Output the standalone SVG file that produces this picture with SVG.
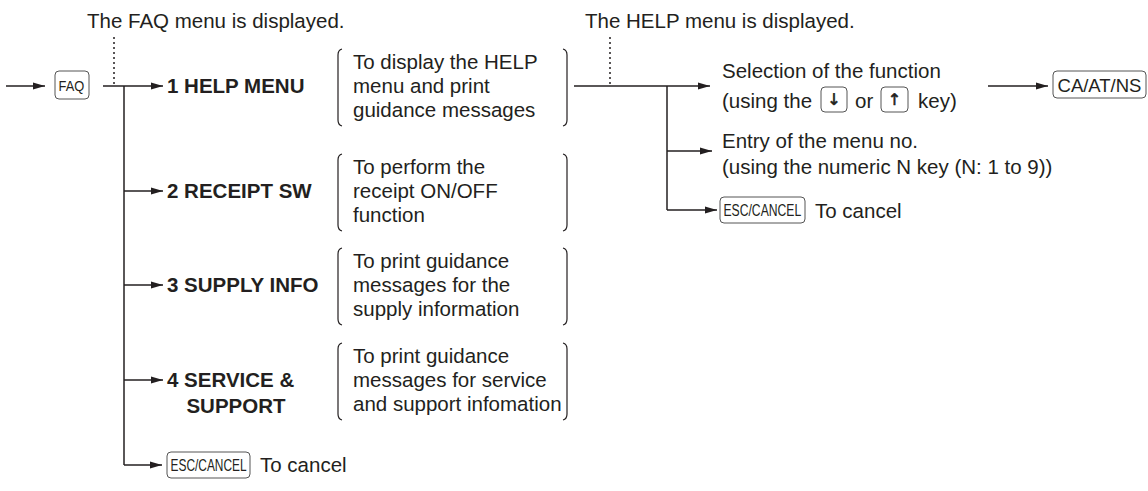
<svg xmlns="http://www.w3.org/2000/svg" width="1148" height="491" viewBox="0 0 1148 491">
<defs>
<style>
.t{font-family:"Liberation Sans",Arial,sans-serif;font-size:20.5px;fill:#231f20}
.b{font-family:"Liberation Sans",Arial,sans-serif;font-size:20.5px;font-weight:bold;fill:#231f20}
.k{font-family:"Liberation Sans",Arial,sans-serif;fill:#231f20}
.ar{font-family:"DejaVu Sans",sans-serif;font-size:16px;fill:#231f20;stroke:#231f20;stroke-width:0.6}
.ln{stroke:#231f20;stroke-width:1.5;fill:none}
.dot{stroke:#231f20;stroke-width:1.5;stroke-dasharray:2 3;fill:none}
.key{fill:#fff;stroke:#555;stroke-width:1}
.br{stroke:#231f20;stroke-width:1.2;fill:none}
</style>
<marker id="ah" markerUnits="userSpaceOnUse" markerWidth="13" markerHeight="8" refX="12" refY="4" orient="auto">
<path d="M0,0.5 L12,4 L0,7.5 z" fill="#231f20"/>
</marker>
</defs>
<rect width="1148" height="491" fill="#fff"/>

<g id="captions">
<text class="t" x="87" y="28">The FAQ menu is displayed.</text>
<text class="t" x="585" y="28">The HELP menu is displayed.</text>
</g>

<g id="connectors">
<path class="dot" d="M114,37 V86"/>
<path class="dot" d="M610,37 V86"/>
<path class="ln" d="M6,86 H45" marker-end="url(#ah)"/>
<path class="ln" d="M103,86 H163" marker-end="url(#ah)"/>
<path class="ln" d="M124,86 V465"/>
<path class="ln" d="M124,191 H163" marker-end="url(#ah)"/>
<path class="ln" d="M124,285 H163" marker-end="url(#ah)"/>
<path class="ln" d="M124,380 H163" marker-end="url(#ah)"/>
<path class="ln" d="M124,465 H162" marker-end="url(#ah)"/>
<path class="ln" d="M574,86 H710" marker-end="url(#ah)"/>
<path class="ln" d="M667,86 V210"/>
<path class="ln" d="M667,151 H712" marker-end="url(#ah)"/>
<path class="ln" d="M667,210 H717" marker-end="url(#ah)"/>
<path class="ln" d="M988,86 H1048" marker-end="url(#ah)"/>
</g>

<g id="faq-key">
<rect class="key" x="55" y="71" width="34" height="28" rx="4"/>
<text class="k" font-size="14" transform="translate(58.5,91) scale(0.92,1)">FAQ</text>
</g>

<g id="item1">
<text class="b" x="167" y="93">1 HELP MENU</text>
<path class="br" d="M342,49 Q338,50 338,55 V120 Q338,125 342,126"/>
<path class="br" d="M563,49 Q567,50 567,55 V120 Q567,125 563,126"/>
<text class="t" x="353" y="69">To display the HELP</text>
<text class="t" x="353" y="93">menu and print</text>
<text class="t" x="353" y="117">guidance messages</text>
</g>

<g id="item2">
<text class="b" x="167" y="198">2 RECEIPT SW</text>
<path class="br" d="M342,154 Q338,155 338,160 V225 Q338,230 342,231"/>
<path class="br" d="M563,154 Q567,155 567,160 V225 Q567,230 563,231"/>
<text class="t" x="353" y="174">To perform the</text>
<text class="t" x="353" y="198">receipt ON/OFF</text>
<text class="t" x="353" y="222">function</text>
</g>

<g id="item3">
<text class="b" x="167" y="292">3 SUPPLY INFO</text>
<path class="br" d="M342,248 Q338,249 338,254 V319 Q338,324 342,325"/>
<path class="br" d="M563,248 Q567,249 567,254 V319 Q567,324 563,325"/>
<text class="t" x="353" y="268">To print guidance</text>
<text class="t" x="353" y="292">messages for the</text>
<text class="t" x="353" y="316">supply information</text>
</g>

<g id="item4">
<text class="b" x="167" y="387">4 SERVICE &amp;</text>
<text class="b" x="236" y="413" text-anchor="middle">SUPPORT</text>
<path class="br" d="M342,343 Q338,344 338,349 V414 Q338,419 342,420"/>
<path class="br" d="M563,343 Q567,344 567,349 V414 Q567,419 563,420"/>
<text class="t" x="353" y="363">To print guidance</text>
<text class="t" x="353" y="387">messages for service</text>
<text class="t" x="353" y="411">and support infomation</text>
</g>

<g id="esc-left">
<rect class="key" x="167" y="452" width="83" height="26" rx="4"/>
<text class="k" font-size="16" transform="translate(170.5,471) scale(0.745,1)">ESC/CANCEL</text>
<text class="t" x="260" y="472">To cancel</text>
</g>

<g id="selection">
<text class="t" x="722" y="78">Selection of the function</text>
<text class="t" x="722" y="108">(using the</text>
<rect class="key" x="821" y="87" width="26" height="25" rx="4"/>
<text class="ar" x="834" y="105" text-anchor="middle">&#x2193;&#xFE0E;</text>
<text class="t" x="855" y="108">or</text>
<rect class="key" x="881" y="87" width="27" height="25" rx="4"/>
<text class="ar" x="894.5" y="105" text-anchor="middle">&#x2191;&#xFE0E;</text>
<text class="t" x="918" y="108">key)</text>
</g>

<g id="ca-key">
<rect class="key" x="1053" y="71" width="93" height="27" rx="4"/>
<text class="k" x="1099.5" y="92" font-size="18.5" text-anchor="middle">CA/AT/NS</text>
</g>

<g id="entry">
<text class="t" x="722" y="148">Entry of the menu no.</text>
<text class="t" x="722" y="174">(using the numeric N key (N: 1 to 9))</text>
</g>

<g id="esc-right">
<rect class="key" x="720" y="197" width="85" height="26" rx="4"/>
<text class="k" font-size="16" transform="translate(723.5,216) scale(0.76,1)">ESC/CANCEL</text>
<text class="t" x="815" y="218">To cancel</text>
</g>
</svg>
